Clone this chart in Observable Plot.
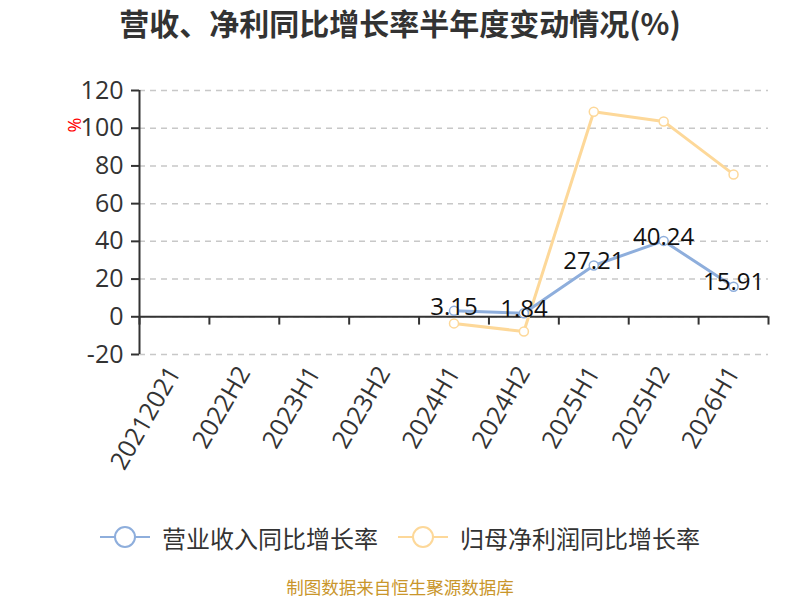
<!DOCTYPE html>
<html>
<head>
<meta charset="utf-8">
<script src="https://cdn.jsdelivr.net/npm/d3@7"></script>
<script src="https://cdn.jsdelivr.net/npm/@observablehq/plot@0.6"></script>
<style>
  body { margin: 0; background: #fff; font-family: "Open Sans", "Noto Sans CJK SC", sans-serif; }
  #wrap { width: 800px; height: 600px; position: relative; overflow: hidden; }
  #title { position: absolute; top: 0; left: 0; width: 800px; height: 50px; text-align: center; line-height: 44px;
    font-size: 30px; font-weight: bold; color: #333; font-family: "Noto Sans CJK SC", sans-serif; }
  #chart { position: absolute; top: 50px; left: 0; }
  #legend { position: absolute; top: 517px; left: 0; width: 800px; height: 40px; display: flex; justify-content: center; align-items: center;
    font-family: "Noto Sans CJK SC", sans-serif; font-size: 24px; color: #333; }
  .item { display: flex; align-items: center; margin: 0 10px; }
  .item svg { margin-right: 12px; }
  #caption { position: absolute; top: 575px; left: 0; width: 800px; text-align: center; font-size: 17.5px; color: #c9962b;
    font-family: "Noto Sans CJK SC", sans-serif; line-height: 24px; }
</style>
</head>
<body>
<div id="wrap">
  <div id="title">营收、净利同比增长率半年度变动情况(%)</div>
  <div id="chart"></div>
  <div id="legend"></div>
  <div id="caption">制图数据来自恒生聚源数据库</div>
</div>
<script>
const categories = ["20212021", "2022H2", "2023H1", "2023H2", "2024H1", "2024H2", "2025H1", "2025H2", "2026H1"];
const revenuePeriods = ["2024H1", "2024H2", "2025H1", "2025H2", "2026H1"];
const revenueGrowth = [3.15, 1.84, 27.21, 40.24, 15.91];
const profitPeriods = ["2024H1", "2024H2", "2025H1", "2025H2", "2026H1"];
const profitGrowth = [-3.5, -7.8, 108.7, 103.6, 75.5];
const yTicks = [-20, 0, 20, 40, 60, 80, 100, 120];
const seriesNames = ["营业收入同比增长率", "归母净利润同比增长率"];
const seriesColors = ["#8eaedc", "#fdd899"];

const revenue = revenuePeriods.map((p, i) => ({x: categories.indexOf(p), y: revenueGrowth[i]}));
const profit = profitPeriods.map((p, i) => ({x: categories.indexOf(p), y: profitGrowth[i]}));
const boundaries = d3.range(categories.length + 1).map(i => i - 0.5);

const chart = Plot.plot({
  width: 800,
  height: 460,
  marginTop: 40,
  marginBottom: 156,
  marginLeft: 139,
  marginRight: 32,
  style: {fontFamily: "'Open Sans', 'Noto Sans CJK SC', sans-serif", background: "white"},
  x: {type: "linear", domain: [-0.5, categories.length - 0.5]},
  y: {domain: [-20, 120]},
  marks: [
    Plot.gridY(yTicks, {stroke: "#c8c8c8", strokeOpacity: 1, strokeDasharray: "6,5", strokeWidth: 1.5}),
    Plot.axisY(yTicks, {tickSize: 8, fontSize: 25, fill: "#333", stroke: "#333", tickPadding: 8, label: null, strokeWidth: 2,
      tickFormat: d => String(d)}),
    Plot.axisX(d3.range(categories.length), {tickSize: 0, tickPadding: 14, tickRotate: -60, fontSize: 25, fill: "#333",
      tickFormat: i => categories[i], label: null}),
    Plot.ruleX([-0.5], {y1: -20, y2: 120, stroke: "#333", strokeWidth: 2}),
    Plot.ruleY([0], {stroke: "#333", strokeWidth: 2}),
    Plot.ruleX(boundaries, {y1: 0, y2: -4.4, stroke: "#333", strokeWidth: 2}),
    Plot.line(profit, {x: "x", y: "y", stroke: seriesColors[1], strokeWidth: 3}),
    Plot.line(revenue, {x: "x", y: "y", stroke: seriesColors[0], strokeWidth: 3}),
    Plot.dot(profit, {x: "x", y: "y", r: 4.5, fill: "white", stroke: seriesColors[1], strokeWidth: 1.5}),
    Plot.dot(revenue, {x: "x", y: "y", r: 4.5, fill: "white", stroke: seriesColors[0], strokeWidth: 1.5}),
    Plot.text(revenue, {x: "x", y: "y", text: d => d.y.toFixed(2), fontSize: 24, fill: "#111", dy: -4}),
    Plot.text(["%"], {frameAnchor: "top-left", dx: -71, dy: 42, rotate: -90, fill: "red", fontSize: 18})
  ]
});
document.getElementById("chart").appendChild(chart);

const legend = document.getElementById("legend");
seriesNames.forEach((name, i) => {
  const item = document.createElement("div");
  item.className = "item";
  item.innerHTML = `<svg width="50" height="26"><line x1="0" y1="13" x2="50" y2="13" stroke="${seriesColors[i]}" stroke-width="2"/>` +
    `<circle cx="25" cy="13" r="10" fill="white" stroke="${seriesColors[i]}" stroke-width="2"/></svg><span>${name}</span>`;
  legend.appendChild(item);
});
</script>
</body>
</html>
